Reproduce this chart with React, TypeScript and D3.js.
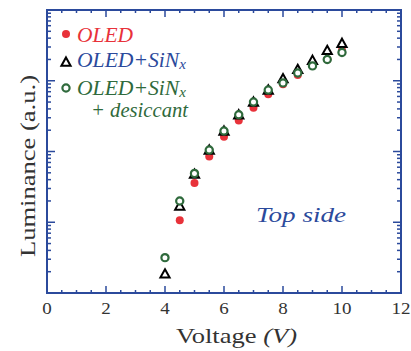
import React from 'react';
import * as d3 from 'd3';

// data (luminance in a.u., log axis)
const voltage = [4, 4.5, 5, 5.5, 6, 6.5, 7, 7.5, 8, 8.5, 9, 9.5, 10];
const oled = [null, 10.7, 36, 85, 162, 275, 417, 646, 891, 1202, 1622, 1995, 2692];
const oledSiN = [1.86, 17, 48, 105, 195, 331, 501, 741, 1072, 1445, 1950, 2692, 3388];
const oledSiNDes = [3.16, 20, 49, 105, 195, 331, 501, 741, 933, 1288, 1622, 1995, 2512];
const xTicks = [0, 2, 4, 6, 8, 10, 12];

const width = 411;
const height = 351;
const margin = { left: 47, right: 10, top: 10, bottom: 58 };
const blue = '#2b4a9c';
const red = '#e8323a';
const green = '#2f6a3c';
const font = "'Liberation Serif', 'DejaVu Serif', 'Times New Roman', serif";

export default function App() {
  const x = d3.scaleLinear().domain([0, 12]).range([margin.left, width - margin.right]);
  const y = d3.scaleLog().domain([1, 10000]).range([height - margin.bottom, margin.top]);
  const [x0, x1] = x.range();
  const [y0, y1] = y.range();

  const xMinor = d3.range(0, 12.01, 0.5);
  const yMinor: number[] = [];
  for (let e = 0; e < 4; e++) for (let k = 2; k <= 9; k++) yMinor.push(k * Math.pow(10, e));
  const yMajor = [10, 100, 1000];

  const tri = (cx: number, cy: number, s = 4.6) =>
    `M${cx},${cy - s}L${cx + s},${cy + s * 0.8}L${cx - s},${cy + s * 0.8}Z`;

  const stretch = { lengthAdjust: 'spacingAndGlyphs' as const };

  return (
    <svg width={width} height={height} style={{ position: 'absolute', left: 0, top: 0, fontFamily: font }}>
      <rect width={width} height={height} fill="#fff" />
      {/* ticks */}
      <g stroke={blue} strokeWidth={1.5}>
        {xMinor.map((v) => {
          const major = v % 2 === 0;
          const len = major ? 7 : 3;
          return (
            <g key={'x' + v}>
              <line x1={x(v)} x2={x(v)} y1={y0} y2={y0 - len} />
              <line x1={x(v)} x2={x(v)} y1={y1} y2={y1 + len} />
            </g>
          );
        })}
        {yMinor.map((v) => (
          <g key={'ym' + v}>
            <line x1={x0} x2={x0 + 4} y1={y(v)} y2={y(v)} />
            <line x1={x1} x2={x1 - 4} y1={y(v)} y2={y(v)} />
          </g>
        ))}
        {yMajor.map((v) => (
          <g key={'yM' + v}>
            <line x1={x0} x2={x0 + 8} y1={y(v)} y2={y(v)} />
            <line x1={x1} x2={x1 - 8} y1={y(v)} y2={y(v)} />
          </g>
        ))}
      </g>
      <rect x={x0} y={y1} width={x1 - x0} height={y0 - y1} fill="none" stroke={blue} strokeWidth={2} />

      {xTicks.map((v) => (
        <text
          key={'t' + v}
          x={x(v)}
          y={y0 + 21}
          textAnchor="middle"
          style={{ fontFamily: font }}
          fontSize={17}
          fill="#333"
          textLength={v >= 10 ? 19 : 9.5}
          {...stretch}
        >
          {v}
        </text>
      ))}
      <text x={176} y={343} style={{ fontFamily: font }} fontSize={22} fill="#333" textLength={121} {...stretch}>
        Voltage <tspan fontStyle="italic">(V)</tspan>
      </text>
      <text
        transform={`translate(35,257) rotate(-90)`}
        style={{ fontFamily: font }}
        fontSize={22}
        fill="#333"
        textLength={182}
        {...stretch}
      >
        Luminance (a.u.)
      </text>

      {/* series */}
      {voltage.map((v, i) =>
        oled[i] == null ? null : (
          <circle key={'r' + i} cx={x(v)} cy={y(oled[i] as number)} r={4} fill={red} />
        )
      )}
      {voltage.map((v, i) => (
        <path key={'b' + i} d={tri(x(v), y(oledSiN[i]))} fill="#fff" stroke="#000" strokeWidth={2} />
      ))}
      {voltage.map((v, i) => (
        <circle key={'g' + i} cx={x(v)} cy={y(oledSiNDes[i])} r={3.6} fill="#fff" stroke={green} strokeWidth={2.2} />
      ))}

      {/* legend */}
      <circle cx={66} cy={34} r={4} fill={red} />
      <text x={77} y={42} style={{ fontFamily: font }} fontStyle="italic" fontSize={20} fill={red} textLength={56} {...stretch}>
        OLED
      </text>
      <path d={tri(66, 62)} fill="#fff" stroke="#000" strokeWidth={2} />
      <text x={77} y={67} style={{ fontFamily: font }} fontStyle="italic" fontSize={20} fill={blue} textLength={109} {...stretch}>
        OLED+SiN<tspan fontSize={14} dy={2}>x</tspan>
      </text>
      <circle cx={66} cy={88} r={3.6} fill="#fff" stroke={green} strokeWidth={2.2} />
      <text x={77} y={95} style={{ fontFamily: font }} fontStyle="italic" fontSize={20} fill={green} textLength={109} {...stretch}>
        OLED+SiN<tspan fontSize={14} dy={2}>x</tspan>
      </text>
      <text x={91} y={117} style={{ fontFamily: font }} fontStyle="italic" fontSize={20} fill={green} textLength={97} {...stretch}>
        + desiccant
      </text>

      <text x={256} y={222} style={{ fontFamily: font }} fontStyle="italic" fontSize={21} fill={blue} textLength={90} {...stretch}>
        Top side
      </text>
    </svg>
  );
}
